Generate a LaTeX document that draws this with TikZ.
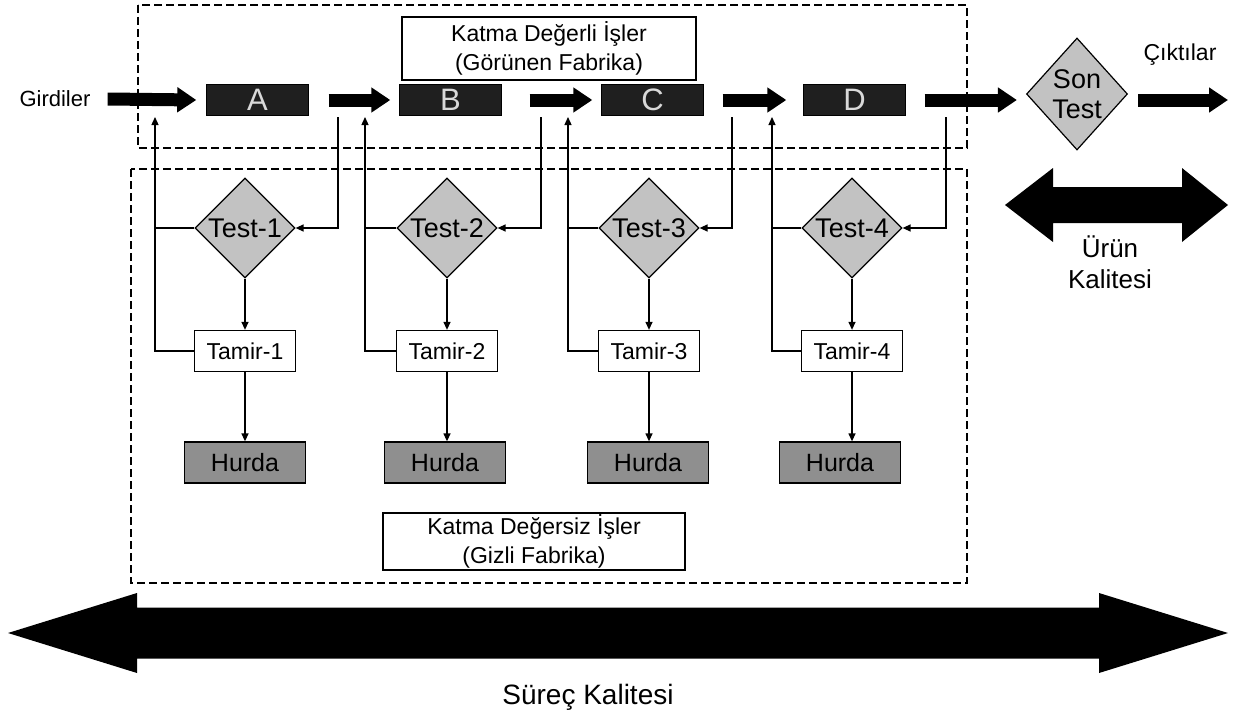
\documentclass[tikz,border=0pt]{standalone}
\usepackage{fontspec}
\setmainfont{Liberation Sans}
\usetikzlibrary{arrows.meta,shapes.geometric,calc}
\definecolor{procfill}{gray}{0.12}
\definecolor{testfill}{gray}{0.76}
\definecolor{hurdafill}{gray}{0.56}
\tikzset{
  conn/.style={line width=1.3pt, -{Triangle[length=8pt,width=7pt]}},
  plainline/.style={line width=1.3pt},
  bigarrow/.style={line width=13pt, -{Triangle[length=19pt,width=24pt]}},
  procbox/.style={rectangle, draw=black, fill=procfill, minimum width=102pt, minimum height=31pt, inner sep=0pt, text=white!85!black, font=\fontsize{31}{31}\selectfont},
  testdia/.style={diamond, draw=black, line width=1.2pt, fill=testfill, minimum width=100pt, minimum height=100pt, inner sep=0pt, font=\fontsize{27}{29}\selectfont},
  tamirbox/.style={rectangle, draw=black, line width=1.3pt, fill=white, minimum width=101pt, minimum height=41pt, inner sep=0pt, font=\fontsize{23}{25}\selectfont},
  hurdabox/.style={rectangle, draw=black, line width=1.3pt, fill=hurdafill, minimum width=121pt, minimum height=41pt, inner sep=0pt, font=\fontsize{25}{27}\selectfont},
  titlebox/.style={rectangle, draw=black, line width=1.5pt, fill=white, align=center, inner sep=0pt, font=\fontsize{23}{29}\selectfont},
  zone/.style={draw=black, line width=1.3pt, dash pattern=on 8pt off 4pt},
  label/.style={inner sep=0pt},
}
\begin{document}
\begin{tikzpicture}[x=1pt,y=-1pt]
\useasboundingbox (0,0) rectangle (1237,725);
% zones
\draw[zone] (138,5) rectangle (967,148);
\draw[zone] (131,169) rectangle (967,583);
% titles
\node[titlebox, minimum width=294pt, minimum height=63pt] (toptitle) at (549,48.5) {Katma Değerli İşler\\(Görünen Fabrika)};
\node[titlebox, minimum width=302pt, minimum height=57pt] (bottitle) at (534,541.5) {Katma Değersiz İşler\\(Gizli Fabrika)};
% main row
\node[label, font=\fontsize{22}{24}\selectfont] (girdiler) at (55,99) {Girdiler};
\node[procbox] (A) at (257.5,100) {A};
\node[procbox] (B) at (450.5,100) {B};
\node[procbox] (C) at (652.5,100) {C};
\node[procbox] (D) at (854.5,100) {D};
\node[testdia, minimum width=101pt, minimum height=112pt, align=center, font=\fontsize{27}{30}\selectfont] (st) at (1077,94) {Son\\Test};
\node[label, font=\fontsize{23}{25}\selectfont] (cikti) at (1180,55) {Çıktılar};
\coordinate (outend) at (1228,100);
\draw[bigarrow] ([xshift=17pt]girdiler.east) -- ([xshift=-10pt]A.west);
\draw[bigarrow] ([xshift=20pt]A.east) -- ([xshift=-9pt]B.west);
\draw[bigarrow] ([xshift=28pt]B.east) -- ([xshift=-9pt]C.west);
\draw[bigarrow] ([xshift=19pt]C.east) -- ([xshift=-17pt]D.west);
\draw[bigarrow] ([xshift=19pt]D.east) -- ($(D.east -| st.west)+(-9,0)$);
\draw[bigarrow] ($(D.east -| st.east)+(10,0)$) -- (outend);
% stages
\foreach \i/\sx/\fb/\inx/\hx in {1/245/155/338/245, 2/447/365/541/445, 3/649/568/732/648, 4/852/772/946/840}{
  \node[testdia] (test\i) at (\sx,228) {Test-\i};
  \node[tamirbox] (tamir\i) at (\sx,351) {Tamir-\i};
  \node[hurdabox] (hurda\i) at (\hx,462.5) {Hurda};
  \coordinate (fbtop\i) at (\fb,117);
  \coordinate (intop\i) at (\inx,117);
  \draw[plainline] (test\i.west) -- (test\i.west -| fbtop\i);
  \draw[conn] (tamir\i.west) -| (fbtop\i);
  \draw[conn] (intop\i) |- (test\i.east);
  \draw[conn] (test\i.south) -- (tamir\i.north);
  \draw[conn] (tamir\i.south) -- (tamir\i.south |- hurda\i.north);
}
% product quality arrow
\fill[black] (1005,205) -- (1053,168) -- (1053,187) -- (1182,187) -- (1182,168) -- (1228,205) -- (1182,242) -- (1182,223) -- (1053,223) -- (1053,242) -- cycle;
\node[label, align=center, font=\fontsize{26}{31}\selectfont] (urun) at (1110,262.5) {Ürün\\Kalitesi};
% process quality arrow
\fill[black] (8,633) -- (137,593) -- (137,607.5) -- (1099,607.5) -- (1099,593) -- (1228,633) -- (1099,673) -- (1099,658.5) -- (137,658.5) -- (137,673) -- cycle;
\node[label, font=\fontsize{28}{30}\selectfont] (surec) at (588,697) {Süreç Kalitesi};
\end{tikzpicture}
\end{document}
